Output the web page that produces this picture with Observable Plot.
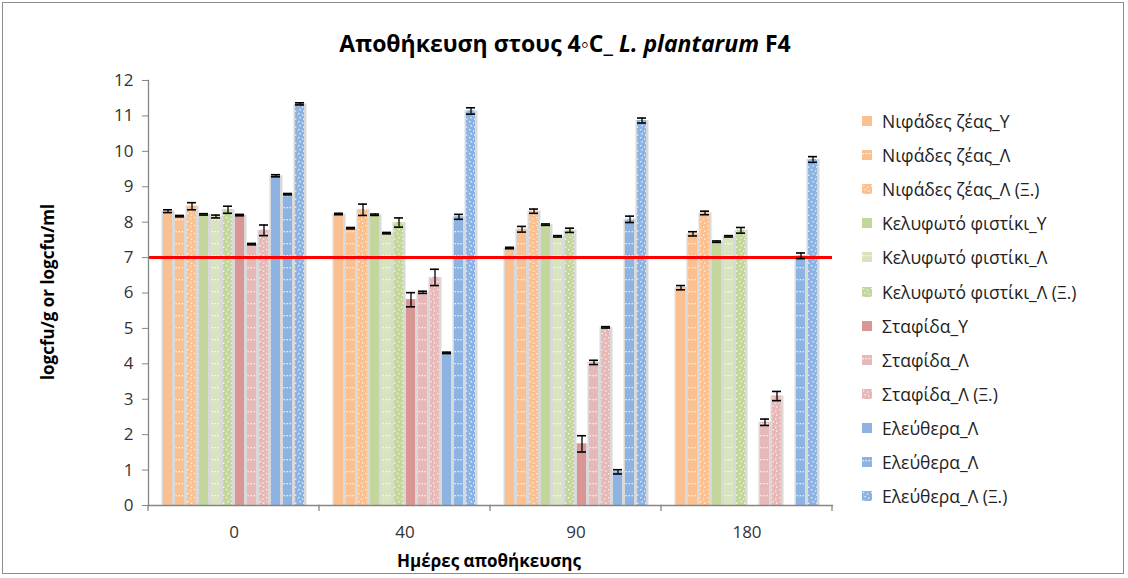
<!DOCTYPE html>
<html><head><meta charset="utf-8">
<script src="https://cdn.jsdelivr.net/npm/d3@7"></script>
<script src="https://cdn.jsdelivr.net/npm/@observablehq/plot@0.6"></script>
<style>
body{margin:0;background:#fff;}
#wrap{position:relative;width:1128px;height:578px;font-family:"Open Sans",sans-serif;color:#222;overflow:hidden;}
#border{position:absolute;left:2px;top:2px;width:1122px;height:572px;border:1px solid #8c8c8c;box-sizing:border-box;pointer-events:none;}
#chart{position:absolute;left:0;top:0;}
#title{position:absolute;left:0;width:1130px;top:27px;text-align:center;font-weight:bold;font-size:23px;color:#000;line-height:32px;}
#ylab{position:absolute;left:47px;top:292px;transform:translate(-50%,-50%) rotate(-90deg);white-space:nowrap;font-weight:bold;font-size:17px;color:#000;}
#xlab{position:absolute;left:489px;top:560px;transform:translate(-50%,-50%);white-space:nowrap;font-weight:bold;font-size:17px;color:#000;}
#legend{position:absolute;left:862px;top:0;}
.lg{position:absolute;left:0;white-space:nowrap;font-size:17.5px;color:#222;display:flex;align-items:center;height:24px;}
.lg svg{margin-right:10px;}
</style></head><body>
<div id="wrap">
  <div id="chart"></div>
  <div id="title">Αποθήκευση στους 4◦C_ <i>L. plantarum</i> F4</div>
  <div id="ylab">logcfu/g or logcfu/ml</div>
  <div id="xlab">Ημέρες αποθήκευσης</div>
  <div id="legend"></div>
  <div id="border"></div>
</div>
<script>
// ---- data ----
const days = ["0", "40", "90", "180"];
const seriesNames = [
  "Νιφάδες ζέας_Υ", "Νιφάδες ζέας_Λ", "Νιφάδες ζέας_Λ (Ξ.)",
  "Κελυφωτό φιστίκι_Υ", "Κελυφωτό φιστίκι_Λ", "Κελυφωτό φιστίκι_Λ (Ξ.)",
  "Σταφίδα_Υ", "Σταφίδα_Λ", "Σταφίδα_Λ (Ξ.)",
  "Ελεύθερα_Λ", "Ελεύθερα_Λ", "Ελεύθερα_Λ (Ξ.)"
];
const day0Values   = [8.31, 8.17, 8.45, 8.22, 8.16, 8.35, 8.20, 7.38, 7.77, 9.31, 8.79, 11.34];
const day40Values  = [8.23, 7.83, 8.35, 8.21, 7.69, 7.99, 5.81, 6.02, 6.44, 4.31, 8.15, 11.14];
const day90Values  = [7.27, 7.80, 8.31, 7.93, 7.60, 7.77, 1.74, 4.04, 5.03, 0.95, 8.08, 10.87];
const day180Values = [6.15, 7.67, 8.26, 7.45, 7.60, 7.77, null, 2.35, 3.09, null, 7.05, 9.77];
const day0Errors   = [0.04, 0.02, 0.10, 0.02, 0.04, 0.10, 0.02, 0.02, 0.15, 0.03, 0.02, 0.03];
const day40Errors  = [0.02, 0.02, 0.16, 0.02, 0.02, 0.13, 0.20, 0.03, 0.23, 0.02, 0.07, 0.09];
const day90Errors  = [0.02, 0.08, 0.06, 0.02, 0.02, 0.06, 0.23, 0.06, 0.02, 0.06, 0.09, 0.07];
const day180Errors = [0.06, 0.06, 0.05, 0.02, 0.02, 0.08, null, 0.09, 0.13, null, 0.08, 0.08];
const thresholdLine = [7];
const yTicks = [0, 1, 2, 3, 4, 5, 6, 7, 8, 9, 10, 11, 12];

// ---- styles ----
const seriesColors = ["#FAC08F","#FAC08F","#FAC08F","#C3D69B","#D7E4BD","#C3D69B","#D99694","#E6B9B8","#E6B9B8","#8DB3E2","#8DB3E2","#8DB3E2"];
const seriesPattern = ["none","dash","dots","none","dash","dots","none","dash","dots","none","dash","dots"];

const allValues = [day0Values, day40Values, day90Values, day180Values];
const allErrors = [day0Errors, day40Errors, day90Errors, day180Errors];
const rows = days.flatMap((day, di) => seriesNames.map((name, si) => ({
  day, s: si, name, value: allValues[di][si], err: allErrors[di][si]
}))).filter(d => d.value != null);

const common = {fx: "day", x: "s", y: "value"};
const chart = Plot.plot({
  width: 1128, height: 578,
  marginLeft: 147, marginRight: 295, marginTop: 80, marginBottom: 73,
  style: {fontFamily: '"Open Sans", sans-serif', fontSize: "14px", color: "#333", background: "transparent"},
  fx: {domain: days, padding: 0, label: null},
  x: {domain: d3.range(12), paddingInner: 0.28, paddingOuter: 1.25, axis: null},
  y: {domain: [0, 12], label: null},
  color: {type: "identity"},
  marks: [
    Plot.barY(rows, {...common, fill: "#d9d9d9", insetLeft: -1.5, insetRight: -2.5}),
    Plot.barY(rows, {...common, fill: d => seriesColors[d.s]}),
    Plot.barY(rows.filter(d => seriesPattern[d.s] === "dash"), {...common, fill: "url(#pDash)"}),
    Plot.barY(rows.filter(d => seriesPattern[d.s] === "dots"), {...common, fill: "url(#pDots)"}),
    Plot.ruleY(thresholdLine, {stroke: "#FF0000", strokeWidth: 3}),
    Plot.ruleX(rows, {fx: "day", x: "s", y1: d => d.value - d.err, y2: d => d.value + d.err, stroke: "#000", strokeWidth: 1.3}),
    Plot.tickY(rows, {fx: "day", x: "s", y: d => d.value - d.err, stroke: "#000", strokeWidth: 1.6}),
    Plot.tickY(rows, {fx: "day", x: "s", y: d => d.value + d.err, stroke: "#000", strokeWidth: 1.6}),
    Plot.frame({anchor: "bottom", stroke: "#868686", strokeWidth: 1.3}),
    Plot.frame({anchor: "left", facetAnchor: "left", stroke: "#868686", strokeWidth: 1.3}),
    Plot.axisY({ticks: yTicks, tickSize: 6, tickPadding: 9, label: null, stroke: "#868686", fontSize: 17, fill: "#333"}),
    Plot.axisFx({anchor: "bottom", tickSize: 0, tickPadding: 20, label: null, fontSize: 17, fill: "#333"})
  ]
});
document.getElementById("chart").appendChild(chart);

// patterns
const svg = d3.select(chart);
const defs = svg.insert("defs", ":first-child");
const pd = defs.append("pattern").attr("id", "pDash").attr("patternUnits", "userSpaceOnUse")
  .attr("width", 3).attr("height", 12);
pd.append("rect").attr("x", 0.5).attr("y", 3).attr("width", 1.4).attr("height", 1.3).attr("fill", "#fff").attr("fill-opacity", 0.85);
const po = defs.append("pattern").attr("id", "pDots").attr("patternUnits", "userSpaceOnUse")
  .attr("width", 8).attr("height", 8);
[[1,1],[5,2.5],[2.5,5],[6,6.5]].forEach(([x, y]) =>
  po.append("rect").attr("x", x).attr("y", y).attr("width", 1.3).attr("height", 1.3).attr("fill", "#fff").attr("fill-opacity", 0.85));

// group boundary ticks from the fx scale
const fx = chart.scale("fx"), ys = chart.scale("y");
const y0 = ys.apply(0);
const bounds = days.map(d => fx.apply(d)).concat([fx.apply(days[days.length - 1]) + fx.bandwidth]);
svg.append("g").selectAll("line").data(bounds).join("line")
  .attr("x1", d => d).attr("x2", d => d).attr("y1", y0).attr("y2", y0 + 6)
  .attr("stroke", "#868686").attr("stroke-width", 1.3);

// legend
const legend = d3.select("#legend");
seriesNames.forEach((name, i) => {
  const row = legend.append("div").attr("class", "lg").style("top", (109 + i * 34.1) + "px");
  const sw = row.append("svg").attr("width", 10).attr("height", 10);
  sw.append("rect").attr("width", 10).attr("height", 10).attr("fill", seriesColors[i]);
  if (seriesPattern[i] !== "none")
    sw.append("rect").attr("width", 10).attr("height", 10).attr("fill", seriesPattern[i] === "dash" ? "url(#pDash)" : "url(#pDots)");
  row.append("span").text(name);
});
</script>
</body></html>
